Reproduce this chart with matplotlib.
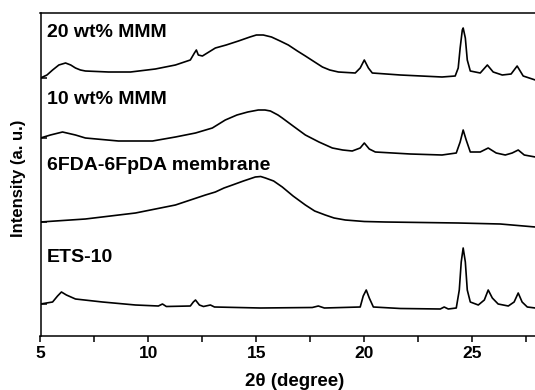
import matplotlib
matplotlib.use("Agg")
import matplotlib.pyplot as plt
from matplotlib.ticker import MultipleLocator

plt.rcParams['font.family'] = ['Liberation Sans', 'DejaVu Sans']
plt.rcParams['font.weight'] = 'bold'

# XRD patterns (2theta in degree, intensity in a.u., stacked)
mmm20_x = [5.0, 5.3, 5.56, 5.85, 6.16, 6.4, 6.62, 6.85, 7.08, 8.15, 9.17, 10.32, 11.25,
           11.94, 12.13, 12.22, 12.31, 12.5, 13.1, 13.6, 14.17, 14.7, 15.0, 15.32, 15.7,
           16.1, 16.48, 16.9, 17.27, 17.7, 18.06, 18.4, 18.8, 19.58, 19.81,
           20.0, 20.19, 20.37, 21.67, 23.6, 24.21, 24.35, 24.44, 24.54, 24.58, 24.68,
           24.77, 24.91, 25.37, 25.7, 25.97, 26.39, 26.8, 27.08, 27.36, 27.92]
mmm20_y = [258, 261, 266, 271, 273, 271, 268, 266, 265, 264, 264, 267, 271,
           276, 283, 286, 281, 280, 288, 291, 295, 299, 301, 301, 299,
           295, 291, 285, 280, 274, 269, 266, 264, 263, 268,
           276, 268, 263, 261, 259, 260, 268, 288, 306, 308, 298,
           276, 265, 263, 271, 264, 261, 262, 270, 260, 256]

mmm10_x = [5.0, 5.46, 6.02, 6.62, 7.08, 8.61, 10.19, 11.25, 12.18, 12.96, 13.56, 14.1,
           14.6, 15.09, 15.4, 15.65, 16.0, 16.2, 16.7, 17.27, 17.9, 18.52, 19.0,
           19.44, 19.81, 20.0, 20.23, 20.51, 22.13, 23.6,
           24.26, 24.44, 24.58, 24.72, 24.91, 25.37, 25.74, 26.11, 26.53, 26.85,
           27.13, 27.41, 27.92]
mmm10_y = [198, 201, 204, 201, 198, 195, 195, 199, 203, 208, 216, 221,
           224, 226, 226, 225, 221, 218, 210, 201, 194, 188, 186,
           185, 188, 193, 187, 184, 182, 181,
           183, 194, 206, 196, 184, 184, 188, 183, 181, 183,
           186, 181, 179]

membrane_x = [5.0, 7.08, 9.4, 11.25, 12.64, 13.1, 13.5, 13.89, 14.4, 14.95, 15.2, 15.42,
              15.8, 16.2, 16.7, 17.27, 17.7, 18.19, 18.6, 19.12, 20.0, 20.97, 24.35,
              26.3, 27.92]
membrane_y = [114, 117, 123, 131, 141, 144, 148, 151, 155, 159, 159.5, 158,
              155, 149, 140, 131, 125, 121, 118, 116, 114.5, 114, 113,
              112, 109]

ets10_x = [5.0, 5.56, 5.79, 5.97, 6.2, 6.62, 7.87, 9.4, 10.46, 10.65, 10.83, 11.94,
           12.08, 12.18, 12.36, 12.55, 12.87, 13.06, 15.19, 17.59, 17.87, 18.15,
           19.81, 19.95, 20.09, 20.23, 20.42, 21.67, 23.52, 23.7, 23.89, 24.26,
           24.4, 24.49, 24.58, 24.68, 24.77, 24.91, 25.28, 25.56, 25.74, 25.93,
           26.2, 26.67, 26.94, 27.13, 27.31, 27.55, 27.92]
ets10_y = [32, 34, 40, 44, 41, 37, 34, 31, 30, 32, 29.5, 30,
           34, 36, 31, 29.5, 31, 29, 28, 28.5, 30, 28,
           29, 40, 46, 38, 29, 27.5, 27, 29, 27, 28,
           46, 74, 88, 74, 46, 34, 31, 36, 46, 38,
           32, 30, 34, 43, 34, 29, 28]

labels = ["20 wt% MMM", "10 wt% MMM", "6FDA-6FpDA membrane", "ETS-10"]
label_y = [303, 236, 170, 78]

fig = plt.figure(figsize=(5.35, 3.9), dpi=100)
ax = fig.add_axes([40.5 / 535, 54 / 390, (537 - 40.5) / 535, 323 / 390])

for xs, ys in [(mmm20_x, mmm20_y), (mmm10_x, mmm10_y),
               (membrane_x, membrane_y), (ets10_x, ets10_y)]:
    ax.plot(xs, ys, color='black', lw=1.2)

for txt, yy in zip(labels, label_y):
    ax.text(5.3, yy, txt, fontsize=14, fontweight='bold', va='center', ha='left')

ax.set_xlim(5, 28)
ax.set_ylim(0, 323)
ax.xaxis.set_major_locator(MultipleLocator(5))
ax.xaxis.set_minor_locator(MultipleLocator(2.5))
ax.tick_params(axis='x', which='both', direction='out', length=4, width=1.1,
               labelsize=12.5, pad=3)
ax.set_yticks([mmm20_y[0], mmm10_y[0], membrane_y[0], ets10_y[0]])
ax.set_yticklabels([])
ax.tick_params(axis='y', direction='in', length=4, width=1.1)
for lbl in ax.get_xticklabels():
    lbl.set_fontweight('bold')
for sp in ax.spines.values():
    sp.set_linewidth(1.1)

fig.text(295 / 535, 1 - 382 / 390, "2θ (degree)", fontsize=13.5, fontweight='bold',
         ha='center', va='center')
fig.text(18.5 / 535, 1 - 178 / 390, "Intensity (a. u.)", fontsize=12, fontweight='bold',
         ha='center', va='center', rotation=90)

fig.savefig("out.png", dpi=100)
